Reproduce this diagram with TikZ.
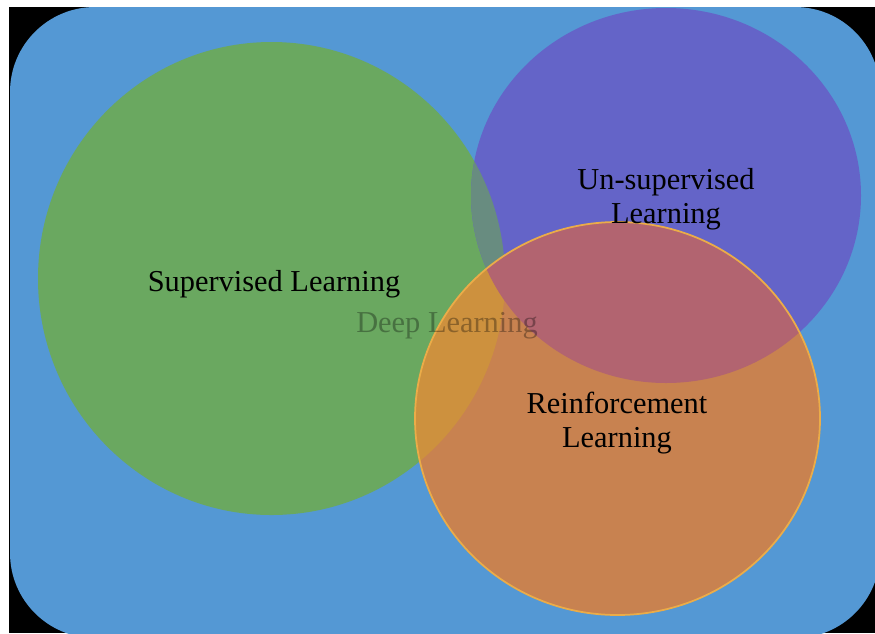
\documentclass[tikz,border=0pt]{standalone}
\usepackage{fontspec}
\setmainfont{Liberation Serif}

\definecolor{fieldblue}{RGB}{84,152,212}
\definecolor{supgreen}{RGB}{106,168,96}
\definecolor{unsuppurple}{RGB}{100,100,200}
\definecolor{reinforange}{RGB}{200,130,80}
\definecolor{greenpurple}{RGB}{104,140,128}
\definecolor{greenorange}{RGB}{205,145,62}
\definecolor{purpleorange}{RGB}{178,100,112}
\definecolor{orangeedge}{RGB}{235,172,72}

\def\suprx{233.5}
\def\supry{236.5}
\def\unsrx{195}
\def\unsry{187.5}
\def\reirx{202.5}
\def\reiry{196.5}

\begin{document}
\begin{tikzpicture}[x=0.02cm,y=-0.02cm]
	\tikzstyle{venn text}=[font=\fontsize{17.3}{19.4}\selectfont, align=center, text=black, inner sep=0pt]
	\tikzstyle{deep text}=[venn text, text opacity=0.32]

	\useasboundingbox (0,0) rectangle (875,633);
	\fill[white] (0,0) rectangle (875,633);
	\fill[black] (9,7) rectangle (875,633);
	\clip (0,0) rectangle (875,633);

	% Draw the outer field
	\fill[fieldblue, rounded corners=1.7cm] (10,7) rectangle (880,638);

	% Centres of the three sets
	\coordinate (sup) at (271.5,278.5);
	\coordinate (uns) at (666,195.5);
	\coordinate (rei) at (617.5,418.5);

	% Draw the three sets
	\fill[supgreen] (sup) ellipse [x radius=\suprx, y radius=\supry];
	\fill[unsuppurple] (uns) ellipse [x radius=\unsrx, y radius=\unsry];
	\fill[reinforange] (rei) ellipse [x radius=\reirx, y radius=\reiry];

	% Overlaps
	\begin{scope}
		\clip (sup) ellipse [x radius=\suprx, y radius=\supry];
		\fill[greenpurple] (uns) ellipse [x radius=\unsrx, y radius=\unsry];
		\fill[greenorange] (rei) ellipse [x radius=\reirx, y radius=\reiry];
	\end{scope}
	\begin{scope}
		\clip (uns) ellipse [x radius=\unsrx, y radius=\unsry];
		\fill[purpleorange] (rei) ellipse [x radius=\reirx, y radius=\reiry];
	\end{scope}
	\draw[orangeedge, line width=1pt] (rei) ellipse [x radius=\reirx, y radius=\reiry];

	% Annotate the sets
	\node[venn text] (sup-text) at (274,284) {Supervised Learning};
	\node[venn text] (uns-text) at (666,199) {Un-supervised\\Learning};
	\node[venn text] (rei-text) at (617,423) {Reinforcement\\Learning};
	\node[deep text] (deep-text) at (447,326) {Deep Learning};
\end{tikzpicture}
\end{document}
